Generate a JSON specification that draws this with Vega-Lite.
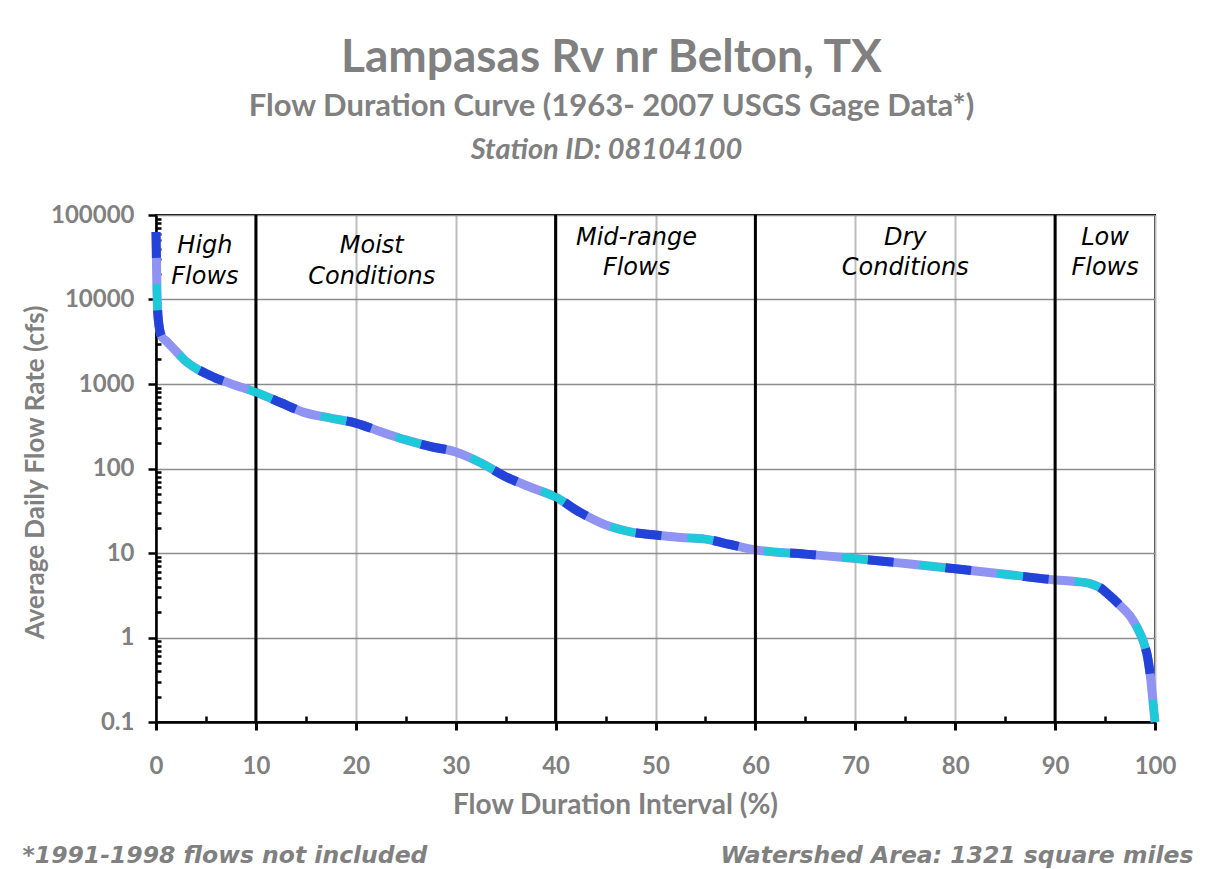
{
  "$schema": "https://vega.github.io/schema/vega-lite/v6.json",
  "width": 999,
  "height": 507,
  "autosize": {"type": "none"},
  "padding": {"left": 156, "top": 215, "right": 54, "bottom": 147},
  "background": "white",
  "title": {
    "text": "Lampasas Rv nr Belton, TX",
    "subtitle": "Flow Duration Curve  (1963- 2007 USGS Gage Data*)",
    "anchor": "middle",
    "frame": "group",
    "dx": -44,
    "offset": 12,
    "font": "Lato",
    "fontSize": 46,
    "fontWeight": "bold",
    "color": "#808080",
    "subtitleFont": "Lato",
    "subtitleFontSize": 31,
    "subtitleFontWeight": "bold",
    "subtitleColor": "#808080",
    "subtitlePadding": 10
  },
  "datasets": {
    "flow": [
      {"pct": 0, "cfs": 63000},
      {"pct": 0.03, "cfs": 40000},
      {"pct": 0.06, "cfs": 22000},
      {"pct": 0.1, "cfs": 12000},
      {"pct": 0.15, "cfs": 8000},
      {"pct": 0.25, "cfs": 5500},
      {"pct": 0.4, "cfs": 4200},
      {"pct": 0.6, "cfs": 3600},
      {"pct": 1, "cfs": 3250},
      {"pct": 2, "cfs": 2450},
      {"pct": 3, "cfs": 1850},
      {"pct": 4, "cfs": 1530},
      {"pct": 5, "cfs": 1330},
      {"pct": 6, "cfs": 1170},
      {"pct": 7, "cfs": 1060},
      {"pct": 8, "cfs": 960},
      {"pct": 9, "cfs": 880},
      {"pct": 10, "cfs": 800},
      {"pct": 12.5, "cfs": 600},
      {"pct": 15, "cfs": 455},
      {"pct": 17.5, "cfs": 395},
      {"pct": 20, "cfs": 345},
      {"pct": 22.5, "cfs": 272},
      {"pct": 25, "cfs": 218},
      {"pct": 27.5, "cfs": 182},
      {"pct": 30, "cfs": 157},
      {"pct": 32.5, "cfs": 117},
      {"pct": 35, "cfs": 80},
      {"pct": 37.5, "cfs": 60},
      {"pct": 40, "cfs": 46},
      {"pct": 42.5, "cfs": 30},
      {"pct": 45, "cfs": 21.5},
      {"pct": 47.5, "cfs": 17.8},
      {"pct": 50, "cfs": 16.3},
      {"pct": 52.5, "cfs": 15.3},
      {"pct": 55, "cfs": 14.6},
      {"pct": 57.5, "cfs": 12.6},
      {"pct": 60, "cfs": 10.9},
      {"pct": 65, "cfs": 9.7},
      {"pct": 70, "cfs": 8.6},
      {"pct": 75, "cfs": 7.5},
      {"pct": 80, "cfs": 6.5},
      {"pct": 85, "cfs": 5.6},
      {"pct": 90, "cfs": 4.8},
      {"pct": 92, "cfs": 4.6},
      {"pct": 93.5, "cfs": 4.35},
      {"pct": 94.5, "cfs": 3.9},
      {"pct": 95.5, "cfs": 3.1},
      {"pct": 96.5, "cfs": 2.4},
      {"pct": 97.5, "cfs": 1.8},
      {"pct": 98.3, "cfs": 1.25},
      {"pct": 98.9, "cfs": 0.85},
      {"pct": 99.3, "cfs": 0.55},
      {"pct": 99.6, "cfs": 0.3},
      {"pct": 99.85, "cfs": 0.15},
      {"pct": 100, "cfs": 0.1}
    ],
    "dividers": [
      {"pct": 10},
      {"pct": 40},
      {"pct": 60},
      {"pct": 90}
    ],
    "zones": [
      {"label": "High", "pct": 4.9, "cfs": 43000},
      {"label": "Flows", "pct": 4.9, "cfs": 18500},
      {"label": "Moist", "pct": 21.6, "cfs": 43000},
      {"label": "Conditions", "pct": 21.6, "cfs": 18500},
      {"label": "Mid-range", "pct": 48.1, "cfs": 53500},
      {"label": "Flows", "pct": 48.1, "cfs": 23600},
      {"label": "Dry", "pct": 75, "cfs": 53500},
      {"label": "Conditions", "pct": 75, "cfs": 23600},
      {"label": "Low", "pct": 95, "cfs": 53500},
      {"label": "Flows", "pct": 95, "cfs": 23600}
    ]
  },
  "layer": [
    {
      "data": {"name": "flow"},
      "mark": {"type": "line", "interpolate": "monotone", "stroke": "#8f94f2", "strokeWidth": 9, "strokeCap": "butt"},
      "encoding": {
        "x": {
          "field": "pct", "type": "quantitative",
          "scale": {"domain": [0, 100], "nice": false, "zero": false},
          "axis": {
            "orient": "bottom",
            "values": [0, 5, 10, 15, 20, 25, 30, 35, 40, 45, 50, 55, 60, 65, 70, 75, 80, 85, 90, 95, 100],
            "labelExpr": "datum.value % 10 == 0 ? datum.label : ''",
            "labelFlush": false,
            "title": "Flow Duration Interval (%)",
            "titleFontSize": 28,
            "titleX": 459,
            "titleY": 91,
            "titleBaseline": "alphabetic",
            "titleAnchor": null,
            "titleAlign": "center",
            "grid": true,
            "gridColor": "#bdbdbd",
            "gridWidth": 2,
            "gridOpacity": {"condition": {"test": "datum.value % 10 == 0", "value": 1}, "value": 0},
            "tickSize": {"condition": {"test": "datum.value % 10 == 0", "value": 8}, "value": -6},
            "tickWidth": {"condition": {"test": "datum.value % 10 == 0", "value": 3}, "value": 2.5},
            "labelPadding": 24
          }
        },
        "y": {
          "field": "cfs", "type": "quantitative",
          "scale": {"type": "log", "domain": [0.1, 100000], "nice": false},
          "axis": {
            "orient": "left",
            "values": [0.1, 0.2, 0.3, 0.4, 0.5, 0.6, 0.7, 0.8, 0.9, 1, 2, 3, 4, 5, 6, 7, 8, 9, 10, 20, 30, 40, 50, 60, 70, 80, 90, 100, 200, 300, 400, 500, 600, 700, 800, 900, 1000, 2000, 3000, 4000, 5000, 6000, 7000, 8000, 9000, 10000, 20000, 30000, 40000, 50000, 60000, 70000, 80000, 90000, 100000],
            "labelExpr": "abs(log(datum.value)/LN10 - round(log(datum.value)/LN10)) < 0.001 ? format(datum.value, '~g') : ''",
            "labelFlush": false,
            "title": "Average Daily Flow Rate (cfs)",
            "titleFontSize": 26,
            "titleX": -121,
            "titleY": 257,
            "titleBaseline": "middle",
            "titleAnchor": null,
            "titleAlign": "center",
            "grid": true,
            "gridColor": "#8c8c8c",
            "gridWidth": 1.5,
            "gridOpacity": {"condition": {"test": "abs(log(datum.value)/LN10 - round(log(datum.value)/LN10)) < 0.001", "value": 1}, "value": 0},
            "tickSize": {"condition": {"test": "abs(log(datum.value)/LN10 - round(log(datum.value)/LN10)) < 0.001", "value": 8}, "value": -5},
            "tickWidth": 2.5,
            "labelPadding": 14
          }
        }
      }
    },
    {
      "data": {"name": "dividers"},
      "mark": {"type": "rule", "stroke": "#000000", "strokeWidth": 3},
      "encoding": {
        "x": {
          "field": "pct", "type": "quantitative",
          "axis": {
            "orient": "bottom",
            "labels": false, "ticks": false, "domain": false, "grid": false,
            "title": "*1991-1998 flows not included",
            "titleFont": "DejaVu Sans",
            "titleFontStyle": "italic",
            "titleFontWeight": "bold",
            "titleFontSize": 23.5,
            "titleColor": "#808080",
            "titleX": -134,
            "titleY": 140,
            "titleAlign": "left",
            "titleAnchor": null,
            "titleBaseline": "alphabetic"
          }
        }
      }
    },
    {
      "data": {"name": "flow"},
      "mark": {"type": "line", "interpolate": "monotone", "stroke": "#2342d8", "strokeWidth": 9, "strokeDash": [26, 52], "strokeCap": "butt"},
      "encoding": {
        "x": {"field": "pct", "type": "quantitative", "axis": null},
        "y": {"field": "cfs", "type": "quantitative", "axis": null}
      }
    },
    {
      "data": {"name": "flow"},
      "mark": {"type": "line", "interpolate": "monotone", "stroke": "#1ccbd8", "strokeWidth": 8, "strokeDash": [26, 52], "strokeDashOffset": 26, "strokeCap": "butt"},
      "encoding": {
        "x": {
          "field": "pct", "type": "quantitative",
          "axis": {
            "orient": "top",
            "labels": false, "ticks": false, "domain": false, "grid": false,
            "title": "Station ID:  08104100",
            "titleFont": "Lato",
            "titleFontStyle": "italic",
            "titleFontWeight": "bold",
            "titleFontSize": 29,
            "titleColor": "#808080",
            "titleX": 450,
            "titleY": -57,
            "titleAlign": "center",
            "titleAnchor": null,
            "titleBaseline": "alphabetic"
          }
        },
        "y": {"field": "cfs", "type": "quantitative", "axis": null}
      }
    },
    {
      "data": {"name": "zones"},
      "mark": {"type": "text", "font": "DejaVu Sans", "fontStyle": "italic", "fontSize": 24, "color": "#000000", "align": "center", "baseline": "middle"},
      "encoding": {
        "x": {
          "field": "pct", "type": "quantitative",
          "axis": {
            "orient": "bottom",
            "labels": false, "ticks": false, "domain": false, "grid": false,
            "title": "Watershed Area: 1321 square miles",
            "titleFont": "DejaVu Sans",
            "titleFontStyle": "italic",
            "titleFontWeight": "bold",
            "titleFontSize": 23.5,
            "titleColor": "#808080",
            "titleX": 1037,
            "titleY": 140,
            "titleAlign": "right",
            "titleAnchor": null,
            "titleBaseline": "alphabetic"
          }
        },
        "y": {"field": "cfs", "type": "quantitative", "axis": null},
        "text": {"field": "label"}
      }
    }
  ],
  "resolve": {"axis": {"x": "independent", "y": "independent"}},
  "config": {
    "view": {"stroke": "#000000", "strokeWidth": 2},
    "axis": {
      "labelFont": "Lato",
      "labelFontSize": 24,
      "labelFontWeight": "bold",
      "labelColor": "#808080",
      "titleFont": "Lato",
      "titleFontSize": 24,
      "titleFontWeight": "bold",
      "titleColor": "#808080",
      "domainColor": "#000000",
      "domainWidth": 2.5,
      "tickColor": "#000000"
    }
  }
}
